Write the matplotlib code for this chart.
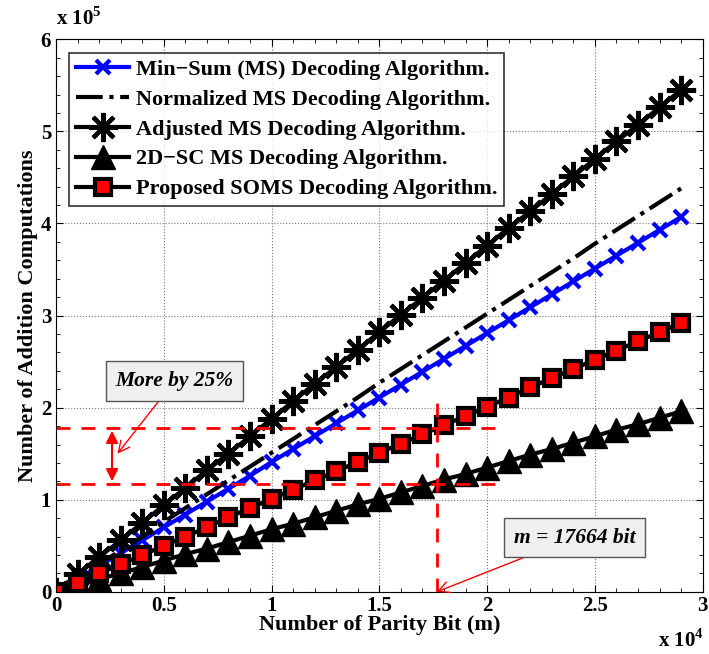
import matplotlib
matplotlib.use('Agg')
import matplotlib.pyplot as plt
from matplotlib.ticker import MultipleLocator, FormatStrFormatter

plt.rcParams['font.family'] = 'Liberation Serif'
plt.rcParams['font.weight'] = 'bold'
plt.rcParams['axes.labelweight'] = 'bold'
plt.rcParams['mathtext.fontset'] = 'custom'
plt.rcParams['mathtext.rm'] = 'Liberation Serif:bold'
plt.rcParams['mathtext.bf'] = 'Liberation Serif:bold'

# Numero de bits de paridade (x 10^4)
paridade = [0.0, 0.1, 0.2, 0.3, 0.4, 0.5, 0.6, 0.7, 0.8, 0.9,
            1.0, 1.1, 1.2, 1.3, 1.4, 1.5, 1.6, 1.7, 1.8, 1.9,
            2.0, 2.1, 2.2, 2.3, 2.4, 2.5, 2.6, 2.7, 2.8, 2.9]

# Numero de somas (x 10^5)
min_sum = [0, 0.14, 0.28, 0.42, 0.56, 0.70, 0.84, 0.98, 1.12, 1.26,
           1.41, 1.55, 1.69, 1.83, 1.97, 2.11, 2.25, 2.39, 2.53, 2.67,
           2.81, 2.95, 3.09, 3.23, 3.37, 3.51, 3.65, 3.79, 3.93, 4.07]
normalizado = [0, 0.15, 0.30, 0.45, 0.60, 0.76, 0.91, 1.06, 1.21, 1.36,
               1.51, 1.66, 1.81, 1.96, 2.11, 2.27, 2.42, 2.57, 2.72, 2.87,
               3.02, 3.17, 3.32, 3.47, 3.62, 3.78, 3.93, 4.08, 4.23, 4.38]
ajustado = [0, 0.19, 0.38, 0.56, 0.75, 0.94, 1.13, 1.32, 1.50, 1.69,
            1.88, 2.07, 2.26, 2.44, 2.63, 2.82, 3.01, 3.19, 3.38, 3.57,
            3.76, 3.95, 4.13, 4.32, 4.51, 4.70, 4.89, 5.07, 5.26, 5.45]
sc_2d = [0, 0.07, 0.14, 0.20, 0.27, 0.34, 0.41, 0.47, 0.54, 0.61,
         0.68, 0.74, 0.81, 0.88, 0.95, 1.01, 1.08, 1.15, 1.22, 1.28,
         1.35, 1.42, 1.49, 1.55, 1.62, 1.69, 1.76, 1.82, 1.89, 1.96]
proposto = [0, 0.10, 0.20, 0.30, 0.40, 0.50, 0.60, 0.70, 0.81, 0.91,
            1.01, 1.11, 1.21, 1.31, 1.41, 1.51, 1.61, 1.71, 1.81, 1.91,
            2.01, 2.11, 2.22, 2.32, 2.42, 2.52, 2.62, 2.72, 2.82, 2.92]

# Anotacoes
m_corte = 1.7664
y_alto = 1.78
y_baixo = 1.17

fig = plt.figure(figsize=(7.09, 6.54), dpi=100)
ax = fig.add_axes([0.079, 0.095, 0.912, 0.845])

ax.plot(paridade, min_sum, color='blue', lw=3, marker='x', ms=10, mew=3,
        label='Min\u2212Sum (MS) Decoding Algorithm.')
ax.plot(paridade, normalizado, color='black', lw=3, ls='-.',
        label='Normalized MS Decoding Algorithm.')
ax.plot(paridade, ajustado, color='black', lw=3, marker=(8, 2, 0), ms=21, mew=3,
        label='Adjusted MS Decoding Algorithm.')
ax.plot(paridade, sc_2d, color='black', lw=3, marker='^', ms=17,
        label='2D\u2212SC MS Decoding Algorithm.')
ax.plot(paridade, proposto, color='black', lw=3, marker='s', ms=11, mew=3,
        mfc='red', mec='black', label='Proposed SOMS Decoding Algorithm.')

# Linhas tracejadas vermelhas
ax.plot([0, 2.07], [y_alto, y_alto], 'r--', lw=2, dashes=(5, 4))
ax.plot([0, 2.07], [y_baixo, y_baixo], 'r--', lw=2, dashes=(5, 4))
ax.plot([m_corte, m_corte], [0, 2.15], 'r--', lw=2, dashes=(5, 4))
ax.annotate('', xy=(0.26, y_alto), xytext=(0.26, y_baixo),
            arrowprops=dict(arrowstyle='<|-|>', color='red', lw=1.5,
                            mutation_scale=18))

ax.annotate('More by 25%', xy=(0.285, 1.50), xytext=(0.55, 2.29),
            fontsize=15.5, style='italic', ha='center', va='center',
            bbox=dict(boxstyle='square,pad=0.45', fc='#efefef', ec='#555555'),
            arrowprops=dict(arrowstyle='->', color='red', lw=1,
                            shrinkA=0, shrinkB=0, mutation_scale=20))
ax.annotate('m = 17664 bit', xy=(m_corte, 0.0), xytext=(2.405, 0.59),
            fontsize=15.5, style='italic', ha='center', va='center',
            bbox=dict(boxstyle='square,pad=0.45', fc='#efefef', ec='#555555'),
            arrowprops=dict(arrowstyle='->', color='red', lw=1,
                            shrinkA=0, shrinkB=0, mutation_scale=20))

ax.set_xlim(0, 3)
ax.set_ylim(0, 6)
ax.xaxis.set_major_locator(MultipleLocator(0.5))
ax.xaxis.set_minor_locator(MultipleLocator(0.1))
ax.yaxis.set_major_locator(MultipleLocator(1))
ax.yaxis.set_minor_locator(MultipleLocator(0.2))
ax.xaxis.set_major_formatter(FormatStrFormatter('%g'))
ax.yaxis.set_major_formatter(FormatStrFormatter('%g'))
ax.tick_params(which='both', direction='in', top=True, right=True, labelsize=15)
ax.tick_params(which='major', length=5)
ax.tick_params(which='minor', length=3)
ax.tick_params(axis='x', pad=3)
ax.grid(True, which='major', ls=':', color='#777777', lw=0.8)

ax.set_xlabel('Number of Parity Bit (m)', fontsize=16, labelpad=-1)
ax.set_ylabel('Number of Addition Computations', fontsize=16, labelpad=2)

fig.text(0.079, 0.955, r'x 10$^{5}$', fontsize=15, ha='left', va='bottom')
fig.text(0.993, 0.003, r'x 10$^{4}$', fontsize=15, ha='right', va='bottom')

leg = ax.legend(loc='upper left', prop={'size': 16, 'weight': 'bold'},
                handlelength=2.4, handletextpad=0.3, borderpad=0.3,
                borderaxespad=0.6, frameon=True, fancybox=False,
                labelspacing=0.42)
leg.get_frame().set_edgecolor('black')
leg.get_frame().set_linewidth(1.2)

fig.savefig('out.png', dpi=100)
